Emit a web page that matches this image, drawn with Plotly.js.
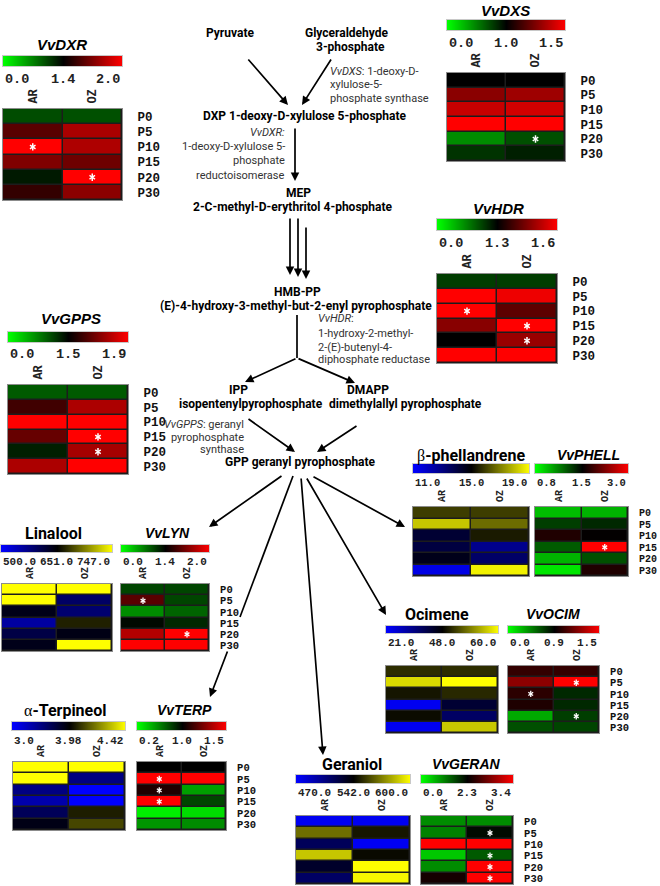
<!DOCTYPE html>
<html><head><meta charset="utf-8">
<script src="https://cdn.plot.ly/plotly-3.0.1.min.js"></script>
<style>html,body{margin:0;padding:0;background:#fff}</style>
</head><body><div id="chart" style="width:660px;height:886px"></div>
<script>
// ---------- DATA ----------
const timepoints = ['P0','P5','P10','P15','P20','P30'];
const cultivars = ['AR','OZ'];

const dxrValues = [[0.98,0.96],[1.61,1.80],[2.00,1.81],[1.70,1.66],[1.26,2.00],[1.52,1.73]];
const dxrSig    = [[0,0],[0,0],[1,0],[0,0],[0,1],[0,0]];
const dxrScale  = ['0.0','1.4','2.0'];

const dxsValues = [[1.00,1.00],[1.27,1.31],[1.39,1.41],[1.50,1.50],[0.45,0.69],[0.80,0.88]];
const dxsSig    = [[0,0],[0,0],[0,0],[0,0],[0,1],[0,0]];
const dxsScale  = ['0.0','1.0','1.5'];

const hdrValues = [[0.99,0.99],[1.60,1.58],[1.60,1.41],[1.46,1.60],[1.30,1.48],[1.60,1.60]];
const hdrSig    = [[0,0],[0,0],[1,0],[0,1],[0,1],[0,0]];
const hdrScale  = ['0.0','1.3','1.6'];

const gppsValues = [[0.97,0.97],[1.60,1.77],[1.90,1.90],[1.66,1.90],[1.32,1.76],[1.77,1.90]];
const gppsSig    = [[0,0],[0,0],[0,0],[0,1],[0,1],[0,0]];
const gppsScale  = ['0.0','1.5','1.9'];

const phellandreneValues = [[15.96,15.96],[18.1,16.7],[14.2,15.4],[14.0,12.8],[14.6,13.4],[11.4,18.8]];
const phellandreneScale  = ['11.0','15.0','19.0'];

const phellValues = [[0.98,1.01],[1.33,1.39],[1.68,1.52],[1.25,3.00],[1.01,1.28],[0.87,1.68]];
const phellSig    = [[0,0],[0,0],[0,0],[0,1],[0,0],[0,0]];
const phellScale  = ['0.8','1.5','3.0'];

const linaloolValues = [[747,747],[747,592],[636,586],[556,663],[610,639],[636,747]];
const linaloolScale  = ['500.0','651.0','747.0'];

const lynValues = [[1.02,1.02],[1.61,1.02],[0.63,0.85],[1.35,1.18],[1.82,2.00],[2.00,2.00]];
const lynSig    = [[0,0],[1,0],[0,0],[0,0],[0,1],[0,0]];
const lynScale  = ['0.0','1.4','2.0'];

const ocimeneValues = [[50.1,50.1],[58.3,60.0],[49.0,49.9],[22.6,42.6],[48.5,37.5],[22.6,57.4]];
const ocimeneScale  = ['21.0','48.0','60.0'];

const ocimValues = [[1.02,1.02],[1.23,1.50],[1.00,0.76],[0.97,0.76],[0.30,0.68],[0.62,0.66]];
const ocimSig    = [[0,0],[0,1],[1,0],[0,0],[0,1],[0,0]];
const ocimScale  = ['0.0','0.9','1.5'];

const terpineolValues = [[4.42,4.42],[4.42,3.48],[3.48,3.00],[3.32,3.00],[3.64,4.03],[3.90,4.10]];
const terpineolScale  = ['3.0','3.98','4.42'];

const terpValues = [[1.00,1.00],[1.50,1.50],[1.06,0.50],[1.50,0.78],[0.25,0.31],[0.53,0.56]];
const terpSig    = [[0,0],[1,0],[1,0],[1,0],[0,0],[0,0]];
const terpScale  = ['0.2','1.0','1.5'];

const geraniolValues = [[474,474],[567,547],[517,473],[587,544],[530,600],[514,598]];
const geraniolScale  = ['470.0','542.0','600.0'];

const geranValues = [[1.04,1.04],[1.13,2.20],[3.40,3.40],[0.50,1.49],[1.04,3.40],[2.39,3.39]];
const geranSig    = [[0,0],[0,1],[0,0],[0,1],[0,1],[0,1]];
const geranScale  = ['0.0','2.3','3.4'];

// ---------- LAYOUT HELPERS ----------
const W = 660, H = 886;
const px = x => x / W, py = y => 1 - y / H;
const MONO = '"Liberation Mono", "Courier New", monospace';
const SANS = 'Roboto, "Liberation Sans", sans-serif';
const ITAL = '"Liberation Sans", Arial, sans-serif';
const GREEK = '<span style="font-family:\'Liberation Serif\',serif;font-weight:normal">';

const panels = [
  {title:'<b><i>VvDXR</i></b>', tf:ITAL, ts:15, kind:'gene', values:dxrValues, sig:dxrSig, scale:dxrScale,
   tpos:[62,44], bar:[3,122,56,66], tickY:80, heat:[3,122,109,200], big:true, rows:true},
  {title:'<b><i>VvDXS</i></b>', tf:ITAL, ts:15, kind:'gene', values:dxsValues, sig:dxsSig, scale:dxsScale,
   tpos:[505,10], bar:[447,565,20,30], tickY:43, heat:[447,565,73,161], big:true, rows:true},
  {title:'<b><i>VvHDR</i></b>', tf:ITAL, ts:15, kind:'gene', values:hdrValues, sig:hdrSig, scale:hdrScale,
   tpos:[498,208], bar:[437,557,219,230], tickY:243, heat:[437,557,274,363], big:true, rows:true},
  {title:'<b><i>VvGPPS</i></b>', tf:ITAL, ts:15, kind:'gene', values:gppsValues, sig:gppsSig, scale:gppsScale,
   tpos:[71,318], bar:[8,128,332,342], tickY:354, heat:[8,128,385,474], big:true, rows:true},
  {title:GREEK+'β</span><b>-phellandrene</b>', tf:SANS, ts:16, kind:'met', values:phellandreneValues, sig:null, scale:phellandreneScale,
   tpos:[471,455], bar:[413,529,464,473], tickY:483, heat:[413,529,507,576], big:false, rows:false, small:true},
  {title:'<b><i>VvPHELL</i></b>', tf:ITAL, ts:14, kind:'gene', values:phellValues, sig:phellSig, scale:phellScale,
   tpos:[588,455], bar:[535,628,464,473], tickY:483, heat:[535,628,507,576], big:false, rows:true, small:true},
  {title:'<b>Linalool</b>', tf:SANS, ts:16, kind:'met', values:linaloolValues, sig:null, scale:linaloolScale,
   tpos:[53,533], bar:[1,112,545,552], tickY:562, heat:[2,112,584,651], big:false, rows:false},
  {title:'<b><i>VvLYN</i></b>', tf:ITAL, ts:14, kind:'gene', values:lynValues, sig:lynSig, scale:lynScale,
   tpos:[167,533], bar:[121,209,545,552], tickY:562, heat:[121,209,584,651], big:false, rows:true},
  {title:'<b>Ocimene</b>', tf:SANS, ts:16, kind:'met', values:ocimeneValues, sig:null, scale:ocimeneScale,
   tpos:[437,614], bar:[386,498,626,633], tickY:643, heat:[386,498,666,733], big:false, rows:false},
  {title:'<b><i>VvOCIM</i></b>', tf:ITAL, ts:14, kind:'gene', values:ocimValues, sig:ocimSig, scale:ocimScale,
   tpos:[553,614], bar:[508,599,626,633], tickY:643, heat:[508,599,666,733], big:false, rows:true},
  {title:GREEK+'α</span><b>-Terpineol</b>', tf:SANS, ts:16, kind:'met', values:terpineolValues, sig:null, scale:terpineolScale,
   tpos:[65,710], bar:[12,125,722,730], tickY:741, heat:[13,125,762,830], big:false, rows:false},
  {title:'<b><i>VvTERP</i></b>', tf:ITAL, ts:14, kind:'gene', values:terpValues, sig:terpSig, scale:terpScale,
   tpos:[185,710], bar:[137,226,722,730], tickY:741, heat:[137,226,762,830], big:false, rows:true},
  {title:'<b>Geraniol</b>', tf:SANS, ts:16, kind:'met', values:geraniolValues, sig:null, scale:geraniolScale,
   tpos:[352,764], bar:[296,410,775,783], tickY:793, heat:[296,410,816,884], big:false, rows:false},
  {title:'<b><i>VvGERAN</i></b>', tf:ITAL, ts:14, kind:'gene', values:geranValues, sig:geranSig, scale:geranScale,
   tpos:[467,764], bar:[421,513,775,783], tickY:793, heat:[421,513,816,884], big:false, rows:true}
];

const axName = (n, c) => c + 'axis' + (n === 1 ? '' : n);
const ref = (n, c) => c + (n === 1 ? '' : n);

const traces = [];
const anns = [];
const shapes = [];
const layout = {
  width: W, height: H, margin: {l:0, r:0, t:0, b:0},
  paper_bgcolor: '#fff', plot_bgcolor: '#1c1c1c', showlegend: false
};

panels.forEach((p, k) => {
  const nb = 2 * k + 1, nh = 2 * k + 2;
  const [lo, mid, hi] = p.scale.map(parseFloat);
  const f = (mid - lo) / (hi - lo);
  const cs = p.kind === 'gene'
    ? [[0,'#00ff00'],[f,'#000000'],[1,'#ff0000']]
    : [[0,'#0000ff'],[f,'#000000'],[1,'#ffff00']];

  // colour key bar
  traces.push({type:'heatmap', x:[0,1,2], y:[0,1], z:[[lo,mid,hi],[lo,mid,hi]], zmin:lo, zmax:hi,
    colorscale:cs, zsmooth:'best', showscale:false, hoverinfo:'skip',
    xaxis:ref(nb,'x'), yaxis:ref(nb,'y')});
  const b = p.bar;
  layout[axName(nb,'x')] = {domain:[px(b[0]), px(b[1])], range:[0,2], anchor:ref(nb,'y'),
    showticklabels:false, ticks:'', showgrid:false, zeroline:false,
    showline:true, mirror:true, linecolor:'#c8c8c8', linewidth:1, fixedrange:true};
  layout[axName(nb,'y')] = {domain:[py(b[3]), py(b[2])], range:[0,1], anchor:ref(nb,'x'),
    showticklabels:false, ticks:'', showgrid:false, zeroline:false,
    showline:true, mirror:true, linecolor:'#c8c8c8', linewidth:1, fixedrange:true};
  const tsz = p.big ? 13.5 : (p.small ? 10.5 : 11);
  ['left','center','right'].forEach((xa, i) => {
    anns.push({xref:ref(nb,'x'), yref:'paper', x:i, y:py(p.tickY), xanchor:xa, yanchor:'middle',
      text:'<b>' + p.scale[i] + '</b>', showarrow:false,
      font:{family:MONO, size:tsz, color:'#222'}});
  });

  // title
  anns.push({xref:'paper', yref:'paper', x:px(p.tpos[0]), y:py(p.tpos[1]), xanchor:'center', yanchor:'middle',
    text:p.title, showarrow:false, font:{family:p.tf, size:p.ts, color:'#000'}});

  // main heatmap
  traces.push({type:'heatmap', x:cultivars, y:timepoints, z:p.values, zmin:lo, zmax:hi,
    colorscale:cs, showscale:false, xgap:1.5, ygap:1.5, hoverinfo:'skip',
    xaxis:ref(nh,'x'), yaxis:ref(nh,'y')});
  const h = p.heat;
  layout[axName(nh,'x')] = {domain:[px(h[0]), px(h[1])], anchor:ref(nh,'y'), side:'top', type:'category',
    tickmode:'array', tickvals:cultivars, ticktext:cultivars, range:[-0.5,1.5],
    tickangle:-90, ticks:'', showgrid:false, zeroline:false, ticklabelstandoff:2,
    tickfont:{family:MONO, size:p.big ? 12 : 10, color:'#222', weight:'bold'},
    showline:true, mirror:true, linecolor:'#8c8c8c', linewidth:1, fixedrange:true};
  layout[axName(nh,'y')] = {domain:[py(h[3]), py(h[2])], anchor:ref(nh,'x'), side:'right', type:'category',
    tickmode:'array', tickvals:timepoints, ticktext:timepoints, range:[5.5,-0.5],
    ticks:'', showgrid:false, zeroline:false, showticklabels:p.rows,
    ticklabelstandoff:p.big ? 12 : 8,
    tickfont:{family:MONO, size:p.big ? 12.5 : (p.small ? 10 : 10.5), color:'#111', weight:'bold'},
    showline:true, mirror:true, linecolor:'#8c8c8c', linewidth:1, fixedrange:true};

  // significance asterisks (six-spoke white marks)
  if (p.sig) {
    const sx = [], sy = [], ss = [];
    p.sig.forEach((row, i) => row.forEach((s, j) => {
      if (s) {
        sx.push(cultivars[j], cultivars[j]);
        sy.push(timepoints[i], timepoints[i]);
        ss.push('y-up-open', 'y-down-open');
      }
    }));
    traces.push({type:'scatter', mode:'markers', x:sx, y:sy, xaxis:ref(nh,'x'), yaxis:ref(nh,'y'),
      hoverinfo:'skip', cliponaxis:false,
      marker:{symbol:ss, size:p.big ? 4.6 : 4, color:'#ffffff', line:{color:'#ffffff', width:p.big ? 1.5 : 1.3}}});
  }
});

// ---------- PATHWAY ----------
function txt(x, y, text, opt = {}) {
  anns.push({xref:'paper', yref:'paper', x:px(x), y:py(y), text:text, showarrow:false,
    xanchor:opt.anchor || 'center', yanchor:'middle',
    font:{family:SANS, size:opt.size || 12, color:opt.color || '#000'}});
}
function arrow(x0, y0, x1, y1) {
  anns.push({xref:'paper', yref:'paper', x:px(x1), y:py(y1), ax:x0 - x1, ay:y0 - y1,
    axref:'pixel', ayref:'pixel', text:'', showarrow:true, arrowhead:2, arrowsize:1,
    arrowwidth:1.7, arrowcolor:'#000', standoff:0});
}
function line(x0, y0, x1, y1) {
  shapes.push({type:'line', xref:'paper', yref:'paper', x0:px(x0), y0:py(y0), x1:px(x1), y1:py(y1),
    line:{color:'#000', width:1.7}});
}
const B = s => '<b>' + s + '</b>';
const DESC = {size:11, color:'#333'};

txt(230, 33, B('Pyruvate'));
txt(347, 33, B('Glyceraldehyde'));
txt(350, 47, B('3-phosphate'));
arrow(247, 58, 288, 105);
arrow(332, 58, 302, 105);
txt(328, 71, '<i>VvDXS</i>: 1-deoxy-D-', {...DESC, anchor:'left'});
txt(328, 84, 'xylulose-5-', {...DESC, anchor:'left'});
txt(328, 98, 'phosphate synthase', {...DESC, anchor:'left'});
txt(305, 116, B('DXP 1-deoxy-D-xylulose 5-phosphate'));
txt(287, 132, '<i>VvDXR:</i>', {...DESC, anchor:'right'});
txt(287, 147, '1-deoxy-D-xylulose 5-', {...DESC, anchor:'right'});
txt(287, 161, 'phosphate', {...DESC, anchor:'right'});
txt(287, 175, 'reductoisomerase', {...DESC, anchor:'right'});
arrow(295, 127, 295, 181);
txt(298, 193, B('MEP'));
txt(293, 207, B('2-C-methyl-D-erythritol 4-phosphate'));
arrow(290, 217, 290, 275);
arrow(298, 217, 298, 277);
arrow(306, 226, 306, 279);
txt(297, 292, B('HMB-PP'));
txt(296, 306, B('(E)-4-hydroxy-3-methyl-but-2-enyl pyrophosphate'));
line(297, 315, 297, 358);
txt(316, 318, '<i>VvHDR</i>:', {...DESC, anchor:'left'});
txt(316, 333, '1-hydroxy-2-methyl-', {...DESC, anchor:'left'});
txt(316, 347, '2-(E)-butenyl-4-', {...DESC, anchor:'left'});
txt(316, 360, 'diphosphate reductase', {...DESC, anchor:'left'});
arrow(297, 358, 245, 382);
arrow(297, 358, 355, 383);
txt(238, 390, B('IPP'));
txt(251, 404, B('isopentenylpyrophosphate'));
txt(368, 390, B('DMAPP'));
txt(405, 404, B('dimethylallyl pyrophosphate'));
txt(246, 424, '<i>VvGPPS</i>: geranyl', {...DESC, anchor:'right'});
txt(246, 437, 'pyrophosphate', {...DESC, anchor:'right'});
txt(246, 449, 'synthase', {...DESC, anchor:'right'});
arrow(247, 418, 295, 452);
arrow(358, 425, 317, 452);
txt(300, 462, B('GPP geranyl pyrophosphate'));

// fan from GPP
arrow(283, 475, 209, 527);           // to VvLYN
line(293, 476, 240, 617);            // to VvTERP (upper part)
arrow(228, 650, 210, 697);           // to VvTERP (lower part)
arrow(301, 477, 323, 755);           // to Geraniol
arrow(306, 477, 386, 615);           // to Ocimene
arrow(312, 476, 405, 527);           // to beta-phellandrene

layout.annotations = anns;
layout.shapes = shapes;
Plotly.newPlot('chart', traces, layout, {staticPlot:true, displayModeBar:false});
</script></body></html>
